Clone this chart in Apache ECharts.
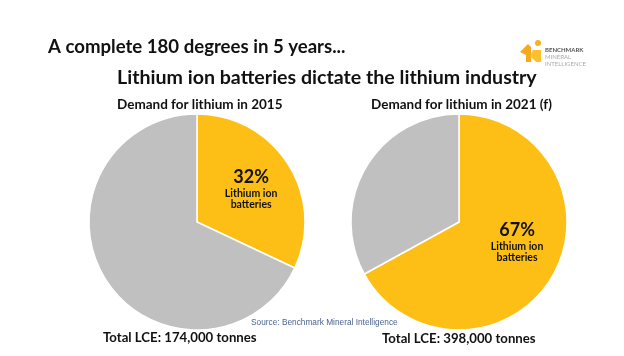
<!DOCTYPE html>
<html>
<head>
<meta charset="utf-8">
<script src="https://cdn.jsdelivr.net/npm/echarts@6/dist/echarts.min.js"></script>
<style>
html,body{margin:0;padding:0;background:#fff;}
#c{width:624px;height:356px;}
</style>
</head>
<body>
<div id="c"></div>
<script>
const categories = ['Lithium ion batteries', 'Other uses'];
const share2015 = [32, 68];
const share2021 = [67, 33];
const pieTitles = ['Demand for lithium in 2015', 'Demand for lithium in 2021 (f)'];
const totals = ['Total LCE: 174,000 tonnes', 'Total LCE: 398,000 tonnes'];
const mainTitle = 'A complete 180 degrees in 5 years...';
const subTitle = 'Lithium ion batteries dictate the lithium industry';
const sourceText = 'Source: Benchmark Mineral Intelligence';

const YELLOW = '#FDBF16';
const GREY = '#C0C0C0';
const FONT = 'Lato';

const chart = echarts.init(document.getElementById('c'), null, {renderer: 'canvas'});

function titleItem(text, left, cy, size, extra) {
  return Object.assign({
    text: text, left: left, top: cy - size * 0.6, padding: 0,
    textStyle: {fontFamily: FONT, fontWeight: 'bold', fontSize: size, color: '#111', lineHeight: size * 1.2}
  }, extra || {});
}

function pieData(vals) {
  return categories.map((c, i) => ({
    name: c, value: vals[i],
    itemStyle: {color: i === 0 ? YELLOW : GREY},
    label: {show: i === 0}
  }));
}

function labelFmt(p) {
  return '{p|' + p.value + '%}\n{t|Lithium ion}\n{t|batteries}';
}
const rich = {
  p: {fontFamily: FONT, fontWeight: 'bold', fontSize: 18, color: '#111', lineHeight: 22},
  t: {fontFamily: FONT, fontWeight: 'bold', fontSize: 10.5, color: '#111', lineHeight: 11}
};

chart.setOption({
  backgroundColor: '#fff',
  animation: false,
  title: [
    titleItem(mainTitle, 48, 47, 18.6),
    titleItem(subTitle, 117, 78, 19.6),
    titleItem(pieTitles[0], 117, 105, 13.5),
    titleItem(pieTitles[1], 371, 105, 13.5),
    titleItem(totals[0], 103, 338, 13.2),
    titleItem(totals[1], 382, 339, 13.2),
    {text: sourceText, left: 251, top: 318, padding: 0,
     textStyle: {fontFamily: 'Liberation Sans', fontWeight: 'normal', fontSize: 8.3, color: '#4A6391', lineHeight: 10}},
    {text: 'BENCHMARK', left: 545, top: 47, padding: 0,
     textStyle: {fontFamily: FONT, fontWeight: 'bold', fontSize: 6, color: '#555', lineHeight: 7}},
    {text: 'MINERAL', left: 545, top: 54, padding: 0,
     textStyle: {fontFamily: FONT, fontWeight: 'normal', fontSize: 6, color: '#aaa', lineHeight: 7}},
    {text: 'INTELLIGENCE', left: 545, top: 61, padding: 0,
     textStyle: {fontFamily: FONT, fontWeight: 'normal', fontSize: 6, color: '#aaa', lineHeight: 7}}
  ],
  graphic: [
    {type: 'circle', shape: {cx: 538, cy: 43, r: 3}, style: {fill: '#F9B218'}},
    {type: 'polygon', shape: {points: [[520,52],[528,44],[531,47],[531,62],[526,62],[526,55]]}, style: {fill: '#F7A81B'}},
    {type: 'polygon', shape: {points: [[533,50],[541,50],[541,62],[536,62],[530,56]]}, style: {fill: '#FBC02D'}}
  ],
  series: [
    {
      type: 'pie', center: [197, 222], radius: [0, 108],
      startAngle: 90, clockwise: true, silent: true,
      data: pieData(share2015),
      itemStyle: {borderColor: '#fff', borderWidth: 1.5},
      label: {position: 'inside', formatter: labelFmt, rich: rich, align: 'center'},
      labelLine: {show: false},
      labelLayout: {dx: 6, dy: -3}
    },
    {
      type: 'pie', center: [459, 222], radius: [0, 108],
      startAngle: 90, clockwise: true, silent: true,
      data: pieData(share2021),
      itemStyle: {borderColor: '#fff', borderWidth: 1.5},
      label: {position: 'inside', formatter: labelFmt, rich: rich, align: 'center'},
      labelLine: {show: false},
      labelLayout: {dx: 9, dy: -10}
    }
  ]
});
</script>
</body>
</html>
